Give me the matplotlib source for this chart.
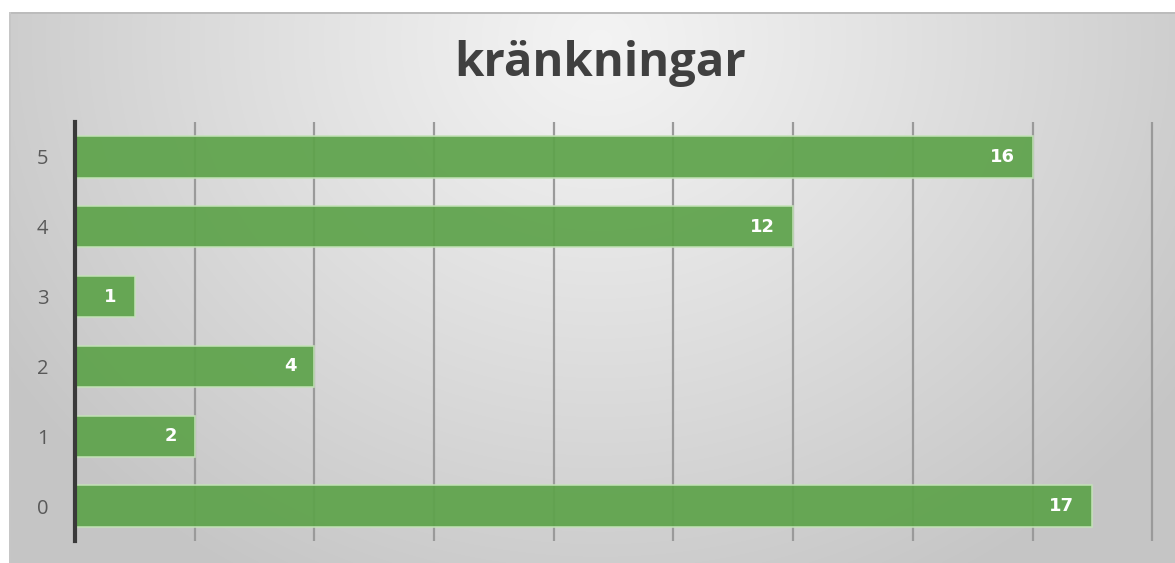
import numpy as np
import matplotlib
matplotlib.use("Agg")
import matplotlib.pyplot as plt

categories = ["0", "1", "2", "3", "4", "5"]
values = [17, 2, 4, 1, 12, 16]
title = "kränkningar"

W, H = 1175, 563
fig = plt.figure(figsize=(W / 100, H / 100), dpi=100)

# background: white with gradient chart area
bg = fig.add_axes([0, 0, 1, 1], zorder=-10)
bg.set_axis_off()
yy, xx = np.mgrid[0:H, 0:W]
cx, cy = 600.0, 40.0
d = np.sqrt(((xx - cx) / 700.0) ** 2 + ((yy - cy) / 620.0) ** 2)
d = np.clip(d, 0, 1)
light, dark = 0.955, 0.775
g = light - (light - dark) * d ** 1.1
img = np.ones((H, W, 3))
mask = (xx >= 9) & (yy >= 12)
for c in range(3):
    ch = img[:, :, c]
    ch[mask] = g[mask]
img[12:14, 9:, :] = 0.74
img[12:, 9:11, :] = 0.78
bg.imshow(img, extent=(0, 1, 0, 1), aspect="auto", interpolation="bilinear")
bg.set_xlim(0, 1)
bg.set_ylim(0, 1)

ax = fig.add_axes([75 / W, 1 - 541 / H, (1160 - 75) / W, (541 - 122) / H])
ax.patch.set_alpha(0)
y = np.arange(len(categories))
bars = ax.barh(y, values, height=0.59, color="#5ea34b", alpha=0.93,
               edgecolor="#c4e2b8", linewidth=1.2, zorder=3)
ax.set_xlim(0, 18.13)
ax.set_ylim(-0.5, 5.5)
ax.set_xticks(np.arange(2, 19, 2))
ax.set_xticklabels([])
ax.tick_params(axis="x", length=0)
ax.grid(axis="x", color="#9a9a9a", linewidth=1.6, zorder=1)
ax.set_axisbelow(True)
ax.set_yticks(y)
ax.set_yticklabels(categories, fontsize=14.5, color="#595959", family="Open Sans")
ax.tick_params(axis="y", length=0, pad=19)
for s in ["top", "right", "bottom"]:
    ax.spines[s].set_visible(False)
ax.spines["left"].set_color("#3a3a3a")
ax.spines["left"].set_linewidth(3)
ax.spines["left"].set_zorder(5)

for yi, v in zip(y, values):
    ax.text(v - 0.3, yi, str(v), ha="right", va="center", color="white",
            fontsize=13, fontweight="bold", family="DejaVu Sans", zorder=6)

fig.text(600 / W, 1 - 64 / H, title, ha="center", va="center", fontsize=34,
         fontweight="bold", color="#404040", family="Open Sans")

fig.savefig("out.png", dpi=100)
